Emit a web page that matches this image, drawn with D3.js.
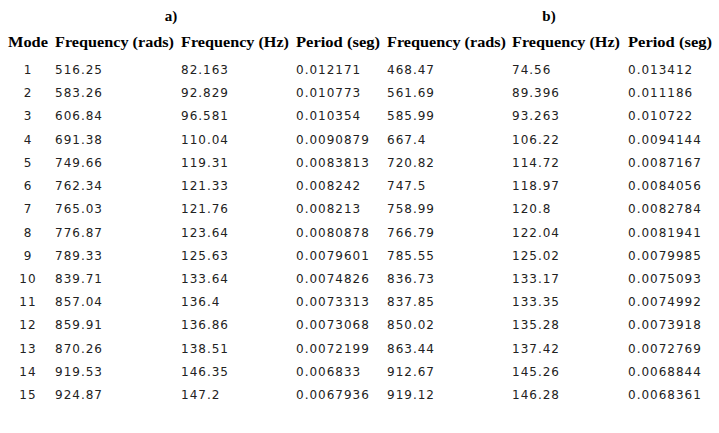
<!DOCTYPE html>
<html><head><meta charset="utf-8">
<script src="https://cdn.jsdelivr.net/npm/d3@7"></script>
<style>body{margin:0;background:#fff}</style></head>
<body><svg id="c" width="719" height="433"></svg>
<script>
const groups = ["a)", "b)"];
const headers = ["Mode","Frequency (rads)","Frequency (Hz)","Period (seg)","Frequency (rads)","Frequency (Hz)","Period (seg)"];
const modes = [1,2,3,4,5,6,7,8,9,10,11,12,13,14,15];
const radsA = ["516.25","583.26","606.84","691.38","749.66","762.34","765.03","776.87","789.33","839.71","857.04","859.91","870.26","919.53","924.87"];
const hzA = ["82.163","92.829","96.581","110.04","119.31","121.33","121.76","123.64","125.63","133.64","136.4","136.86","138.51","146.35","147.2"];
const perA = ["0.012171","0.010773","0.010354","0.0090879","0.0083813","0.008242","0.008213","0.0080878","0.0079601","0.0074826","0.0073313","0.0073068","0.0072199","0.006833","0.0067936"];
const radsB = ["468.47","561.69","585.99","667.4","720.82","747.5","758.99","766.79","785.55","836.73","837.85","850.02","863.44","912.67","919.12"];
const hzB = ["74.56","89.396","93.263","106.22","114.72","118.97","120.8","122.04","125.02","133.17","133.35","135.28","137.42","145.26","146.28"];
const perB = ["0.013412","0.011186","0.010722","0.0094144","0.0087167","0.0084056","0.0082784","0.0081941","0.0079985","0.0075093","0.0074992","0.0073918","0.0072769","0.0068844","0.0068361"];
const cols = [modes, radsA, hzA, perA, radsB, hzB, perB];

const svg = d3.select("#c");
const colX = [8,55,181,296,387,512,628];
const headW = [40,119,108,84,119,108,84];
const y = d3.scaleLinear().domain([0,14]).range([74,399]);
const hf = "'Liberation Serif', serif";
const bf = "'DejaVu Sans', Verdana, sans-serif";
svg.selectAll("text.g").data(groups).join("text")
  .attr("x",(d,i)=>[171,549][i]).attr("y",21).attr("text-anchor","middle")
  .attr("font-family",hf).attr("font-weight","bold").attr("font-size",15).text(d=>d);
svg.selectAll("text.h").data(headers).join("text")
  .attr("x",(d,i)=>colX[i]).attr("y",47)
  .attr("font-family",hf).attr("font-weight","bold").attr("font-size",15)
  .attr("textLength",(d,i)=>headW[i]).attr("lengthAdjust","spacingAndGlyphs").text(d=>d);
cols.forEach((col,ci)=>{
  svg.append("g").selectAll("text").data(col).join("text")
    .attr("x", ci===0?28:colX[ci]).attr("y",(d,i)=>y(i))
    .attr("text-anchor", ci===0?"middle":"start")
    .attr("font-family",bf).attr("font-size",12).attr("letter-spacing",1)
    .attr("fill","#222").text(d=>d);
});
</script></body></html>
